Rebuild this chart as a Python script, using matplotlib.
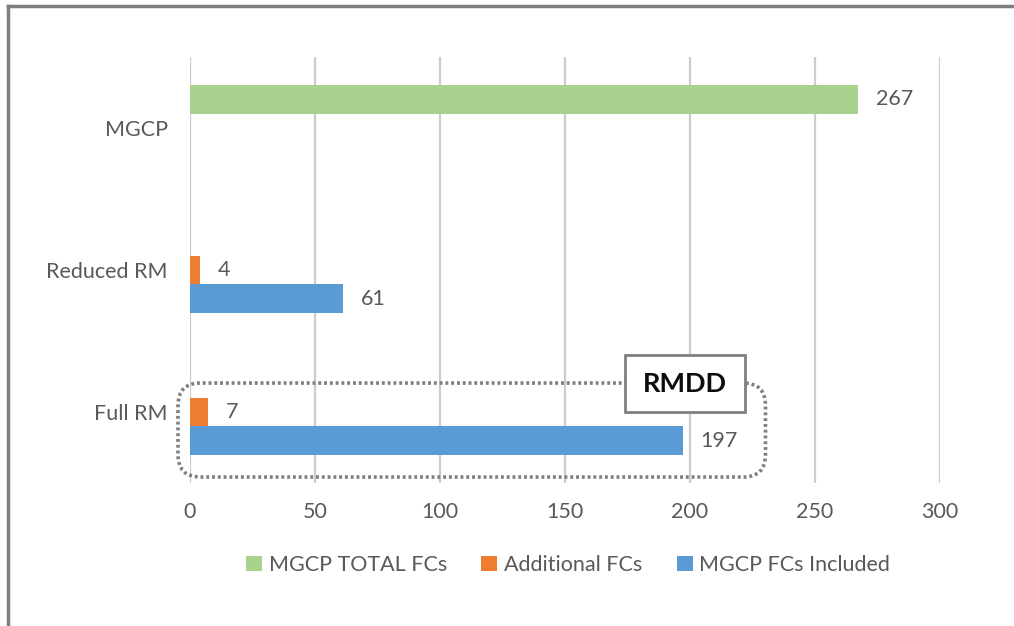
import numpy as np
import matplotlib
matplotlib.use('Agg')
import matplotlib.pyplot as plt
from matplotlib.patches import Patch, Rectangle, FancyBboxPatch
from matplotlib.lines import Line2D

plt.rcParams['font.family'] = ['Lato', 'DejaVu Sans']

# data, bottom to top
categories = ['Full RM', 'Reduced RM', 'MGCP']
total_fcs = [None, None, 267]
additional_fcs = [7, 4, None]
included_fcs = [197, 61, None]
series_names = ['MGCP TOTAL FCs', 'Additional FCs', 'MGCP FCs Included']
colors = ['#a9d18e', '#ed7d31', '#5b9bd5']
x_ticks = [0, 50, 100, 150, 200, 250, 300]

text_color = '#595959'

fig = plt.figure(figsize=(10.14, 6.26), dpi=100)
ax = fig.add_axes([190 / 1014, 1 - 483 / 626, 750 / 1014, 426 / 626])

h = 0.204
y = np.arange(len(categories))
for k, (vals, col) in enumerate(zip([total_fcs, additional_fcs, included_fcs], colors)):
    off = (1 - k) * h
    for yi, v in zip(y, vals):
        if v is None:
            continue
        ax.barh(yi + off, v, height=h, color=col, edgecolor='none', zorder=3)
        ax.annotate(str(v), (v, yi + off), xytext=(13, 0), textcoords='offset points',
                    ha='left', va='center', fontsize=15.5, color=text_color)

ax.set_xlim(0, 300)
ax.set_ylim(-0.5, 2.5)
ax.set_xticks(x_ticks)
ax.set_yticks(y)
ax.set_yticklabels(categories)
ax.tick_params(axis='x', length=0, pad=14, labelsize=15.5, labelcolor=text_color)
ax.tick_params(axis='y', length=0, pad=16, labelsize=15.5, labelcolor=text_color)
ax.grid(axis='x', color='#cccccc', linewidth=1.6, zorder=0)
for s in ax.spines.values():
    s.set_visible(False)

# dotted rounded box around Full RM
x_per_px = 300 / 750
y_per_px = 3 / 426
box = FancyBboxPatch((-4.8, -0.458), 235, 0.662,
                     boxstyle='round,pad=0,rounding_size=9',
                     mutation_aspect=y_per_px / x_per_px,
                     facecolor='none', edgecolor='#7f7f7f', linewidth=2.6,
                     linestyle=(0, (0.8, 0.8)), clip_on=False, zorder=4)
ax.add_patch(box)

# RMDD label box
ax.add_patch(Rectangle((174, 0.0), 48, 0.40, facecolor='white', edgecolor='#7f7f7f',
                       linewidth=2, zorder=5, clip_on=False))
ax.text(198, 0.2, 'RMDD', ha='center', va='center', fontsize=19.5, fontweight='bold',
        color='#0d0d0d', zorder=6)

handles = [Patch(facecolor=c, edgecolor='none') for c in colors]
fig.legend(handles, series_names, loc='center', bbox_to_anchor=(568 / 1014, 1 - 565 / 626),
           ncol=3, frameon=False, fontsize=15.5, labelcolor=text_color,
           handlelength=0.75, handleheight=0.75, handletextpad=0.3, columnspacing=1.6)

# outer frame (left and top edges)
fig.add_artist(Line2D([8 / 1014, 8 / 1014], [0, 1 - 6 / 626], transform=fig.transFigure,
                      color='#7f7f7f', linewidth=2.5))
fig.add_artist(Line2D([8 / 1014, 1], [1 - 6 / 626, 1 - 6 / 626], transform=fig.transFigure,
                      color='#7f7f7f', linewidth=2.5))

fig.savefig('out.png', dpi=100, facecolor='white')
